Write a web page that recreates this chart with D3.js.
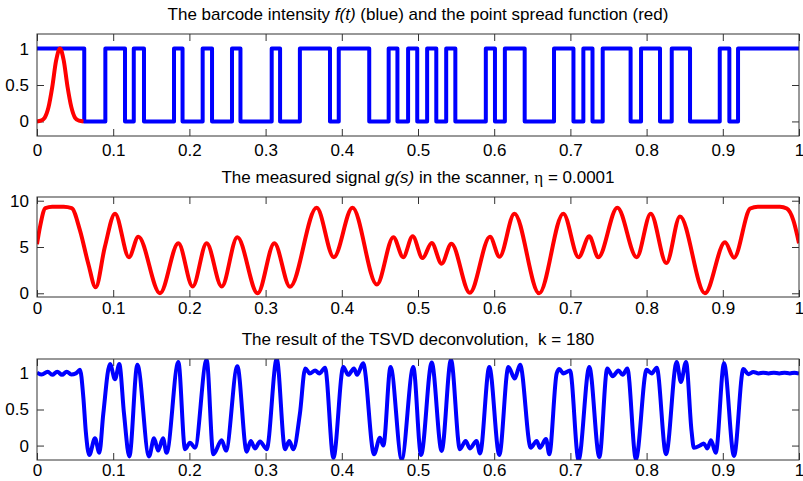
<!DOCTYPE html>
<html>
<head>
<meta charset="utf-8">
<script src="https://cdn.jsdelivr.net/npm/d3@7"></script>
<style>
  body { margin: 0; background: #fff; }
  svg { display: block; font-family: "Liberation Sans", Arial, sans-serif; }
  .title { font-size: 17px; fill: #000; white-space: pre; }
  .tick text { font-size: 17px; fill: #000; }
  .tick line { stroke: #333; }
  .box { fill: none; stroke: #333; stroke-width: 1; }
</style>
</head>
<body>
<script>
// x axis ticks shared by all three panels
var xTicks = [0, 0.1, 0.2, 0.3, 0.4, 0.5, 0.6, 0.7, 0.8, 0.9, 1];
var xTickLabels = ["0", "0.1", "0.2", "0.3", "0.4", "0.5", "0.6", "0.7", "0.8", "0.9", "1"];

// panel 1: barcode f(t) starts at 1 and toggles 1/0 at each edge
var barcodeStart = 1;
var barcodeEdges = [0.062, 0.0897, 0.1155, 0.127, 0.1404, 0.1798, 0.191, 0.2174, 0.2297,
    0.2559, 0.267, 0.308, 0.319, 0.345, 0.3845, 0.396, 0.436, 0.4615, 0.473, 0.487,
    0.499, 0.512, 0.524, 0.537, 0.549, 0.589, 0.601, 0.614, 0.640, 0.6785, 0.704,
    0.717, 0.729, 0.7424, 0.779, 0.7927, 0.8176, 0.833, 0.857, 0.896, 0.9086, 0.920];

// panel 1: point spread function (red)
var psfPoints = [[0, 0], [0.005, 0.01], [0.01, 0.05], [0.015, 0.19], [0.02, 0.47],
    [0.025, 0.83], [0.0302, 1.0], [0.035, 0.84], [0.04, 0.48], [0.045, 0.2],
    [0.05, 0.05], [0.055, 0.01], [0.061, 0]];
var yTicks01 = [0, 0.5, 1];
var yTickLabels01 = ["0", "0.5", "1"];

// panel 2: measured signal g(s)
var signalPoints = [[0, 5.3], [0.004, 7.2], [0.011, 9.2], [0.02, 9.35], [0.035, 9.35],
    [0.0455, 9.2], [0.0564, 6.8], [0.0673, 3.2], [0.077, 0.65], [0.089, 5.0],
    [0.1024, 8.6], [0.1207, 3.9], [0.133, 6.1], [0.1614, 0.0], [0.1855, 5.4],
    [0.2043, 0.73], [0.2226, 5.4], [0.2424, 0.73], [0.2629, 6.05], [0.2896, 0.0],
    [0.3115, 5.4], [0.332, 0.7], [0.367, 9.24], [0.3895, 3.9], [0.414, 9.24],
    [0.446, 0.95], [0.4677, 6.05], [0.4805, 3.9], [0.493, 6.15], [0.506, 3.8],
    [0.518, 5.43], [0.531, 3.2], [0.5438, 5.35], [0.568, 0.05], [0.5945, 6.1],
    [0.607, 3.95], [0.6265, 8.6], [0.659, 0.0], [0.6907, 8.6], [0.7108, 3.9],
    [0.7248, 6.15], [0.7366, 3.88], [0.7616, 9.24], [0.787, 3.9], [0.8054, 8.6],
    [0.826, 3.26], [0.8438, 8.3], [0.8766, 0.0], [0.9029, 5.5], [0.9147, 3.85],
    [0.936, 9.15], [0.946, 9.35], [0.975, 9.35], [0.984, 9.15], [0.9925, 7.9],
    [1, 5.4]];
var yTicksSignal = [0, 5, 10];
var yTickLabelsSignal = ["0", "5", "10"];

// panel 3: TSVD deconvolution, k = 180
var tsvdPoints = [[0, 1.01], [0.0063, 0.985], [0.014, 1.025], [0.02, 0.98], [0.0266, 1.025],
    [0.0328, 0.98], [0.039, 1.025], [0.045, 0.985], [0.051, 1.0], [0.0564, 1.05],
    [0.0608, 0.67], [0.064, 0.2], [0.0686, -0.13], [0.0761, 0.1], [0.0818, -0.1],
    [0.087, 0.44], [0.0958, 1.13], [0.1024, 0.92], [0.108, 1.13], [0.1142, 0.44],
    [0.1212, -0.15], [0.1317, 1.12], [0.147, -0.15], [0.1536, 0.1], [0.159, -0.07],
    [0.1654, 0.1], [0.170, -0.1], [0.1855, 1.16], [0.1943, -0.05], [0.2008, 0.04],
    [0.2073, -0.03], [0.2226, 1.19], [0.2314, -0.12], [0.2424, 0.075], [0.248, -0.07],
    [0.2629, 1.1], [0.2752, -0.085], [0.2805, 0.065], [0.286, -0.04], [0.2927, 0.056],
    [0.3014, -0.05], [0.3146, 1.2], [0.3255, -0.05], [0.331, 0.065], [0.3364, -0.05],
    [0.345, 0.44], [0.352, 1.07], [0.358, 1.0], [0.365, 1.04], [0.3705, 1.0],
    [0.378, 1.08], [0.389, -0.17], [0.402, 1.09], [0.4085, 0.98], [0.416, 1.07],
    [0.42, 0.98], [0.428, 1.14], [0.4423, -0.12], [0.45, 0.11], [0.4545, 0.0],
    [0.464, 1.09], [0.4786, -0.19], [0.4938, 1.09], [0.504, -0.13], [0.518, 1.15],
    [0.531, -0.075], [0.5433, 1.19], [0.555, -0.05], [0.5626, 0.065], [0.568, -0.04],
    [0.5767, 0.065], [0.5814, -0.11], [0.5936, 1.09], [0.6067, -0.13], [0.6186, 1.09],
    [0.627, 0.93], [0.634, 1.12], [0.648, -0.03], [0.6558, 0.065], [0.66, -0.03],
    [0.668, 0.09], [0.6723, -0.12], [0.682, 1.0], [0.6855, 1.06], [0.6907, 1.0],
    [0.6995, 1.04], [0.7107, -0.2], [0.7248, 1.09], [0.738, -0.16], [0.7484, 1.07],
    [0.7555, 0.96], [0.763, 1.04], [0.7686, 0.98], [0.7747, 1.07], [0.786, -0.19],
    [0.80, 1.05], [0.8067, 1.0], [0.8133, 1.08], [0.8255, -0.12], [0.8395, 1.16],
    [0.845, 0.88], [0.8517, 1.16], [0.859, 0.2], [0.862, -0.03], [0.870, 0.0],
    [0.875, 0.03], [0.8797, -0.04], [0.8845, 0.075], [0.8907, -0.1], [0.9016, 1.14],
    [0.9147, -0.145], [0.927, 1.06], [0.9335, 0.99], [0.94, 1.02], [0.947, 1.0],
    [0.953, 1.01], [0.96, 1.0], [0.967, 1.01], [0.974, 1.0], [0.981, 1.01],
    [0.988, 1.0], [0.994, 1.01], [1, 1.0]];

//build barcode step points from the edge list
var barcodePoints = [[0, barcodeStart]];
var level = barcodeStart;
barcodeEdges.forEach(function(e){
    level = 1 - level;
    barcodePoints.push([e, level]);
});
barcodePoints.push([1, level]);

//svg frame
var width = 803,
    height = 481;

var svg = d3.select("body")
    .append("svg")
    .attr("width", width)
    .attr("height", height);

var left = 37,
    right = 799;

var x = d3.scaleLinear()
    .domain([0, 1])
    .range([left, right]);

//one panel = box, inward ticks on all four sides, title, clipped lines
function drawPanel(id, top, h, labelPad, yDomain, yTicks, yLabels, titleParts, series){
    var y = d3.scaleLinear()
        .domain(yDomain)
        .range([top + h, top]);

    var g = svg.append("g").attr("class", "panel");

    g.append("clipPath")
        .attr("id", "clip" + id)
        .append("rect")
        .attr("x", left)
        .attr("y", top)
        .attr("width", right - left)
        .attr("height", h);

    //bottom axis with labels
    g.append("g")
        .attr("transform", "translate(0," + (top + h) + ")")
        .call(d3.axisBottom(x).tickValues(xTicks)
            .tickFormat(function(d, i){ return xTickLabels[i]; })
            .tickSize(-7).tickPadding(labelPad));

    //top axis, ticks only
    g.append("g")
        .attr("transform", "translate(0," + top + ")")
        .call(d3.axisTop(x).tickValues(xTicks).tickFormat("").tickSize(-7));

    //left axis with labels
    g.append("g")
        .attr("transform", "translate(" + left + ",0)")
        .call(d3.axisLeft(y).tickValues(yTicks)
            .tickFormat(function(d, i){ return yLabels[i]; })
            .tickSize(-7).tickPadding(8));

    //right axis, ticks only
    g.append("g")
        .attr("transform", "translate(" + right + ",0)")
        .call(d3.axisRight(y).tickValues(yTicks).tickFormat("").tickSize(-7));

    g.selectAll(".domain").remove();
    g.selectAll(".tick text").attr("font-family", null).attr("font-size", null);

    //plot lines
    var line = d3.line()
        .x(function(d){ return x(d[0]); })
        .y(function(d){ return y(d[1]); });

    series.forEach(function(s){
        g.append("path")
            .datum(s.points)
            .attr("clip-path", "url(#clip" + id + ")")
            .attr("fill", "none")
            .attr("stroke", s.color)
            .attr("stroke-width", 4)
            .attr("stroke-linejoin", "round")
            .attr("d", line.curve(s.curve));
    });

    //axes box
    g.append("rect")
        .attr("class", "box")
        .attr("x", left)
        .attr("y", top)
        .attr("width", right - left)
        .attr("height", h);

    //title
    var t = g.append("text")
        .attr("class", "title")
        .attr("x", (left + right) / 2)
        .attr("y", top - 14)
        .attr("text-anchor", "middle");
    titleParts.forEach(function(p){
        var ts = t.append("tspan").text(p.text);
        if (p.italic) ts.attr("font-style", "italic");
        if (p.serif) ts.attr("font-family", "Liberation Serif, serif");
    });
}

drawPanel(1, 34, 102, 8, [-0.2, 1.2], yTicks01, yTickLabels01,
    [{text: "The barcode intensity "}, {text: "f(t)", italic: true},
     {text: " (blue) and the point spread function (red)"}],
    [{points: barcodePoints, color: "#0000ff", curve: d3.curveStepAfter},
     {points: psfPoints, color: "#ff0000", curve: d3.curveMonotoneX}]);

drawPanel(2, 197, 100, 5, [-0.4, 10.4], yTicksSignal, yTickLabelsSignal,
    [{text: "The measured signal "}, {text: "g(s)", italic: true},
     {text: " in the scanner, "}, {text: "\u03b7", serif: true}, {text: " = 0.0001"}],
    [{points: signalPoints, color: "#ff0000", curve: d3.curveMonotoneX}]);

drawPanel(3, 359, 101, 4, [-0.2, 1.2], yTicks01, yTickLabels01,
    [{text: "The result of the TSVD deconvolution,  k = 180"}],
    [{points: tsvdPoints, color: "#0000ff", curve: d3.curveMonotoneX}]);
</script>
</body>
</html>
